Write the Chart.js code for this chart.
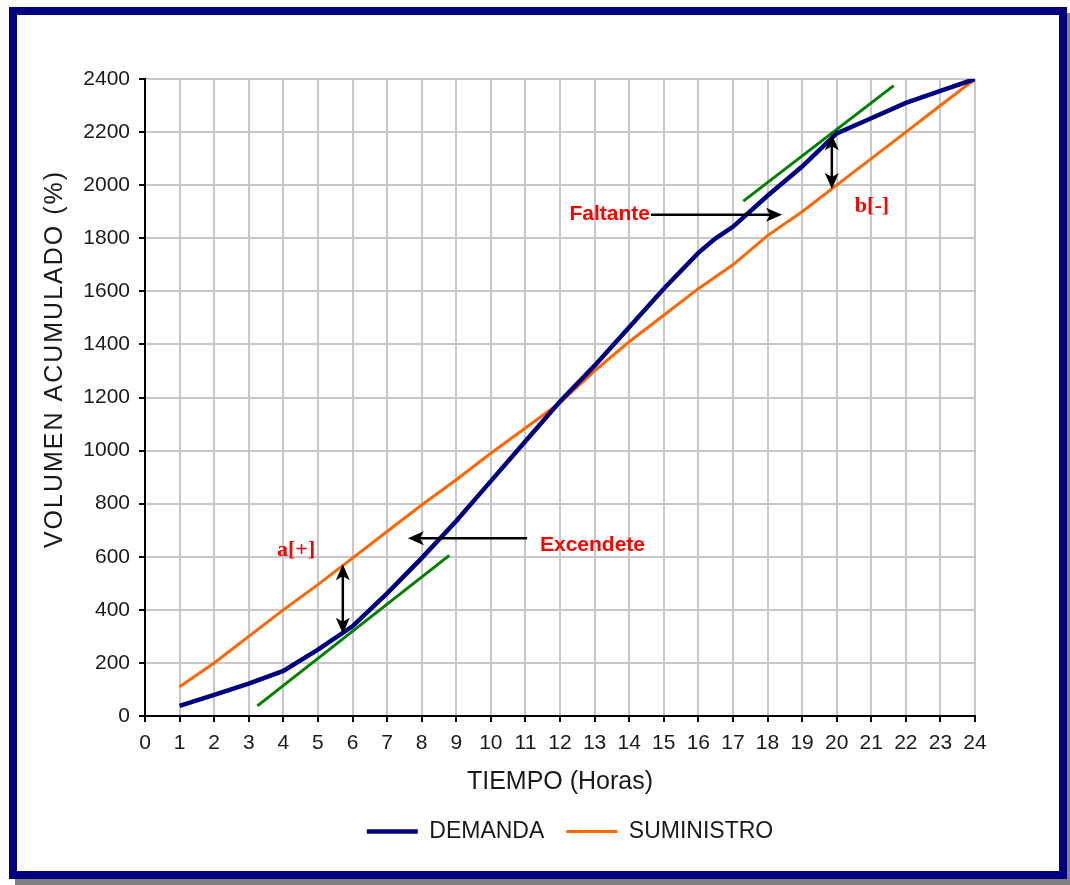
<!DOCTYPE html>
<html>
<head>
<meta charset="utf-8">
<script src="https://cdn.jsdelivr.net/npm/chart.js@4.4.0/dist/chart.umd.min.js"></script>
<style>
html, body { margin: 0; padding: 0; background: #fff; }
#marco {
    position: absolute; left: 9px; top: 7px;
    width: 1042px; height: 856px;
    border: 8px solid #000080;
    box-shadow: 6px 6px 0 #808080;
    background: #fff;
}
#grafico { position: absolute; left: 0; top: 0; }
</style>
</head>
<body>
<div id="marco"><canvas id="grafico" width="1042" height="856"></canvas></div>
<script>
// Datos
const horas = [1, 2, 3, 4, 5, 6, 7, 8, 9, 10, 11, 12, 13, 14, 15, 16, 16.5, 17, 18, 19, 20, 21, 22, 23, 24];
const demanda = [38, 80, 122, 170, 250, 338, 462, 595, 735, 885, 1035, 1185, 1320, 1465, 1610, 1745, 1800, 1843, 1960, 2070, 2195, 2252, 2310, 2355, 2400];
const suministro = [110, 200, 300, 400, 495, 595, 695, 795, 890, 990, 1085, 1180, 1300, 1410, 1510, 1610, 1655, 1700, 1810, 1900, 2000, 2100, 2200, 2300, 2400];

// Tangentes (verde)
const tangenteA = [{ x: 3.25, y: 38 }, { x: 8.8, y: 605 }];
const tangenteB = [{ x: 17.3, y: 1940 }, { x: 21.65, y: 2375 }];

// Flechas y textos (en unidades de los ejes)
const flechasVerticales = [{ x: 5.72, y1: 572, y2: 310 }, { x: 19.86, y1: 2192, y2: 1986 }];
const flechasHorizontales = [{ y: 670, desde: 11.05, hasta: 7.6 }, { y: 1889, desde: 14.63, hasta: 18.42 }];
const etiquetas = [
    { texto: 'a[+]', x: 4.37, y: 623, serif: true, align: 'center' },
    { texto: 'b[-]', x: 21.02, y: 1919, serif: true, align: 'center' },
    { texto: 'Excendete', x: 11.42, y: 643, serif: false, align: 'left' },
    { texto: 'Faltante', x: 14.6, y: 1889, serif: false, align: 'right' }
];

const ticksY = [0, 200, 400, 600, 800, 1000, 1200, 1400, 1600, 1800, 2000, 2200, 2400];
const tituloY = 'VOLUMEN ACUMULADO (%)';

const fuente = '"Liberation Sans", Arial, sans-serif';

function punta(ctx, px, py, ang) {
    ctx.save();
    ctx.translate(px, py);
    ctx.rotate(ang);
    ctx.beginPath();
    ctx.moveTo(0, 0);
    ctx.lineTo(-16, -7);
    ctx.lineTo(-12, 0);
    ctx.lineTo(-16, 7);
    ctx.closePath();
    ctx.fill();
    ctx.restore();
}

const anotaciones = {
    id: 'anotaciones',
    afterLayout(chart) {
        // la leyenda va algo a la derecha del centro, como en el original
        chart.legend.left += 74;
        chart.legend.right += 74;
    },
    afterDatasetsDraw(chart) {
        const { ctx, scales: { x, y } } = chart;
        ctx.save();
        ctx.strokeStyle = '#000';
        ctx.fillStyle = '#000';
        ctx.lineWidth = 2.5;

        flechasVerticales.forEach(f => {
            const px = x.getPixelForValue(f.x);
            const p1 = y.getPixelForValue(f.y1);
            const p2 = y.getPixelForValue(f.y2);
            ctx.beginPath();
            ctx.moveTo(px, p1 + 10);
            ctx.lineTo(px, p2 - 10);
            ctx.stroke();
            punta(ctx, px, p1, -Math.PI / 2);
            punta(ctx, px, p2, Math.PI / 2);
        });

        flechasHorizontales.forEach(f => {
            const py = y.getPixelForValue(f.y);
            const p1 = x.getPixelForValue(f.desde);
            const p2 = x.getPixelForValue(f.hasta);
            const dir = p2 > p1 ? 1 : -1;
            ctx.beginPath();
            ctx.moveTo(p1, py);
            ctx.lineTo(p2 - dir * 10, py);
            ctx.stroke();
            punta(ctx, p2, py, dir > 0 ? 0 : Math.PI);
        });

        ctx.fillStyle = '#ff0000';
        ctx.textBaseline = 'middle';
        etiquetas.forEach(e => {
            ctx.font = e.serif ? 'bold 22px "Liberation Serif", serif' : 'bold 21px ' + fuente;
            ctx.textAlign = e.align;
            ctx.fillText(e.texto, x.getPixelForValue(e.x), y.getPixelForValue(e.y));
        });
        ctx.restore();
    },
    afterDraw(chart) {
        // título del eje Y, más espaciado que el de Chart.js
        const ctx = chart.ctx;
        ctx.save();
        ctx.translate(38, 344);
        ctx.rotate(-Math.PI / 2);
        ctx.font = '25px ' + fuente;
        ctx.letterSpacing = '2px';
        ctx.fillStyle = '#1a1a1a';
        ctx.textAlign = 'center';
        ctx.textBaseline = 'middle';
        ctx.fillText(tituloY, 0, 0);
        ctx.restore();
    }
};

const ctx = document.getElementById('grafico').getContext('2d');
new Chart(ctx, {
    type: 'line',
    data: {
        datasets: [{
            label: 'DEMANDA',
            data: horas.map((h, i) => ({ x: h, y: demanda[i] })),
            borderColor: '#000080',
            backgroundColor: '#000080',
            borderWidth: 4.5,
            pointRadius: 0,
            tension: 0
        }, {
            label: 'SUMINISTRO',
            data: horas.map((h, i) => ({ x: h, y: suministro[i] })),
            borderColor: '#ff6600',
            backgroundColor: '#ff6600',
            borderWidth: 3,
            pointRadius: 0,
            tension: 0
        }, {
            label: 'tangenteA',
            data: tangenteA,
            borderColor: '#008000',
            borderWidth: 3,
            pointRadius: 0
        }, {
            label: 'tangenteB',
            data: tangenteB,
            borderColor: '#008000',
            borderWidth: 3,
            pointRadius: 0
        }]
    },
    options: {
        responsive: false,
        animation: false,
        layout: { padding: { left: 0, top: 64, right: 84, bottom: 18 } },
        plugins: {
            tooltip: { enabled: false },
            legend: {
                position: 'bottom',
                labels: {
                    usePointStyle: true,
                    pointStyle: 'line',
                    pointStyleWidth: 51,
                    padding: 22,
                    color: '#1a1a1a',
                    font: { family: fuente, size: 23 },
                    filter: item => item.text === 'DEMANDA' || item.text === 'SUMINISTRO'
                }
            }
        },
        scales: {
            x: {
                type: 'linear',
                min: 0,
                max: 24,
                afterFit: s => { s.height = 82; },
                border: { color: '#000', width: 2 },
                grid: { color: '#c8c8c8', lineWidth: 2, tickLength: 6, tickColor: '#000' },
                ticks: {
                    stepSize: 1,
                    padding: 9,
                    color: '#1a1a1a',
                    font: { family: fuente, size: 21 }
                },
                title: {
                    display: true,
                    text: 'TIEMPO (Horas)',
                    color: '#1a1a1a',
                    font: { family: fuente, size: 25 },
                    padding: { top: 0, bottom: 1 }
                }
            },
            y: {
                min: 0,
                max: 2400,
                afterFit: s => { s.width = 128; },
                afterBuildTicks: s => { s.ticks = ticksY.map(v => ({ value: v })); },
                border: { color: '#000', width: 2 },
                grid: { color: '#c8c8c8', lineWidth: 2, tickLength: 6, tickColor: '#000' },
                ticks: {
                    padding: 9,
                    color: '#1a1a1a',
                    font: { family: fuente, size: 21 },
                    callback: v => String(v)
                }
            }
        }
    },
    plugins: [anotaciones]
});
</script>
</body>
</html>
